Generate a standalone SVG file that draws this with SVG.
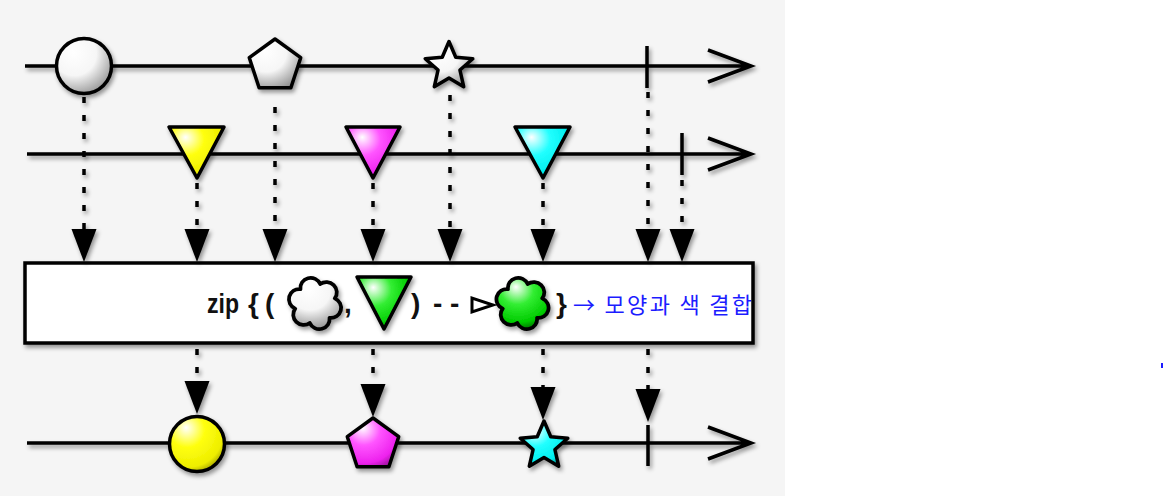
<svg xmlns="http://www.w3.org/2000/svg" width="1163" height="496" viewBox="0 0 1163 496">
<style>
.tl{fill:none;stroke:#000;stroke-width:3.5;stroke-linejoin:miter}
.sh{filter:url(#sh)}
.cn{fill:none;stroke:#000;stroke-width:3.5;stroke-dasharray:6 12;marker-end:url(#ah)}
.sp{stroke:#000;stroke-width:3.5;stroke-linejoin:round}
.t{font-family:"Liberation Sans",Arial,sans-serif;font-weight:bold;font-size:28px;fill:#111}
.k{font-family:"Noto Sans CJK KR","Noto Sans",sans-serif;font-size:22px;fill:#1c1cff}
</style>
<defs>
<filter id="sh" filterUnits="userSpaceOnUse" x="0" y="0" width="1163" height="496">
<feDropShadow dx="2" dy="3" stdDeviation="2" flood-color="#000" flood-opacity="0.4"/>
</filter>
<marker id="ah" markerUnits="userSpaceOnUse" markerWidth="34" markerHeight="26" viewBox="0 -13 34 26" refX="0" refY="0" orient="auto">
<path d="M0,-12.5 L33,0 L0,12.5 Z" fill="#000"/>
</marker>
<radialGradient id="gW" cx="0.35" cy="0.3" r="0.8" fx="0.3" fy="0.25">
<stop offset="0" stop-color="#fff"/><stop offset="0.5" stop-color="#f6f6f6"/><stop offset="1" stop-color="#8c8c8c"/>
</radialGradient>
<radialGradient id="gY" cx="0.35" cy="0.3" r="0.8" fx="0.3" fy="0.2">
<stop offset="0" stop-color="#fff"/><stop offset="0.4" stop-color="#ffff10"/><stop offset="0.8" stop-color="#eeee00"/><stop offset="1" stop-color="#8a8a00"/>
</radialGradient>
<radialGradient id="gM" cx="0.35" cy="0.3" r="0.8" fx="0.3" fy="0.2">
<stop offset="0" stop-color="#fff"/><stop offset="0.4" stop-color="#ff55ff"/><stop offset="0.8" stop-color="#ee22ee"/><stop offset="1" stop-color="#991199"/>
</radialGradient>
<radialGradient id="gC" cx="0.35" cy="0.3" r="0.8" fx="0.3" fy="0.2">
<stop offset="0" stop-color="#fff"/><stop offset="0.4" stop-color="#22ffff"/><stop offset="0.8" stop-color="#00eeee"/><stop offset="1" stop-color="#008888"/>
</radialGradient>
<radialGradient id="gG" cx="0.35" cy="0.3" r="0.8" fx="0.3" fy="0.2">
<stop offset="0" stop-color="#fff"/><stop offset="0.4" stop-color="#33ee33"/><stop offset="0.8" stop-color="#00cc00"/><stop offset="1" stop-color="#006600"/>
</radialGradient>
<path id="cloud" d="M-16.45,-9.5 A9.6,9.6 0 0 1 0,-19 A9.6,9.6 0 0 1 16.45,-9.5 A9.6,9.6 0 0 1 16.45,9.5 A9.6,9.6 0 0 1 0,19 A9.6,9.6 0 0 1 -16.45,9.5 A9.6,9.6 0 0 1 -16.45,-9.5 Z"/>
<polygon id="star" points="0,-25 6.76,-9.3 23.78,-7.73 10.94,3.55 14.69,20.23 0,11.5 -14.69,20.23 -10.94,3.55 -23.78,-7.73 -6.76,-9.3"/>
</defs>

<rect x="0" y="0" width="1163" height="496" fill="#fff"/>
<rect x="0" y="0" width="785" height="496" fill="#f5f5f5"/>

<g id="timelines" class="sh">
<path class="tl" d="M25,66 H749 M708,50 L751,66 L708,82"/>
<path class="tl" d="M27,154 H749 M708,138 L751,154 L708,170"/>
<path class="tl" d="M27,443 H749 M708,427 L751,443 L708,459"/>
<path class="tl" d="M647,46 V88 M682,133 V175 M648,425 V466"/>
</g>

<g id="zip-box" class="sh">
<rect x="25" y="263" width="728" height="80" fill="#fff" stroke="#000" stroke-width="3.5"/>
</g>

<g id="connectors" class="sh">
<path class="cn" d="M84,97 V229"/>
<path class="cn" d="M197,183 V229"/>
<path class="cn" d="M275,107 V229"/>
<path class="cn" d="M373,183 V229"/>
<path class="cn" d="M450,95 V229"/>
<path class="cn" d="M543,183 V229"/>
<path class="cn" d="M648,92 V229"/>
<path class="cn" d="M682,180 V229"/>
<path class="cn" d="M197,349 V381"/>
<path class="cn" d="M373,349 V384"/>
<path class="cn" d="M543,349 V387"/>
<path class="cn" d="M648,349 V389"/>
</g>

<g id="src1-circle" class="sh"><circle class="sp" cx="84" cy="66" r="27.5" fill="url(#gW)"/></g>
<g id="src1-pentagon" class="sh"><polygon class="sp" points="275,39 300.7,57.7 290.9,87.8 259.1,87.8 249.3,57.7" fill="url(#gW)"/></g>
<g id="src1-star" class="sh"><use href="#star" class="sp" transform="translate(449,66.5)" fill="url(#gW)"/></g>

<g id="src2-yellow" class="sh"><polygon class="sp" points="169,127 224,127 197,178" fill="url(#gY)"/></g>
<g id="src2-magenta" class="sh"><polygon class="sp" points="346,127 400,127 373,178" fill="url(#gM)"/></g>
<g id="src2-cyan" class="sh"><polygon class="sp" points="515,127 570,127 543,178" fill="url(#gC)"/></g>

<g id="formula">
<text class="t" x="207" y="313" textLength="32" lengthAdjust="spacingAndGlyphs">zip</text>
<text class="t" x="248" y="313">{</text>
<text class="t" x="265" y="313">(</text>
<g class="sh"><use href="#cloud" class="sp" fill="url(#gW)" transform="translate(315,303.5) rotate(15) scale(1.08,1.06)"/></g>
<text class="t" x="344" y="313">,</text>
<g class="sh"><polygon class="sp" points="357,277 411,277 384,329" fill="url(#gG)"/></g>
<text class="t" x="411" y="313">)</text>
<text class="t" x="433" y="313">- -</text>
<polygon points="472,298 472,312 493,305" fill="#fff" stroke="#000" stroke-width="3" stroke-linejoin="miter"/>
<g class="sh"><use href="#cloud" class="sp" fill="url(#gG)" transform="translate(522.5,303.5) rotate(15) scale(1.08,1.06)"/></g>
<text class="t" x="556" y="313">}</text>
</g>

<g id="annotation">
<text class="k" x="573" y="313" textLength="179" lengthAdjust="spacing">→ 모양과 색 결합</text>
<rect x="1161" y="363" width="2" height="5" fill="#1c1cff"/>
</g>

<g id="out-yellow" class="sh"><circle class="sp" cx="197" cy="444" r="27.5" fill="url(#gY)"/></g>
<g id="out-magenta" class="sh"><polygon class="sp" points="373,418 398.7,436.7 388.9,466.8 357.1,466.8 347.3,436.7" fill="url(#gM)"/></g>
<g id="out-cyan" class="sh"><use href="#star" class="sp" transform="translate(544,446)" fill="url(#gC)"/></g>
</svg>
